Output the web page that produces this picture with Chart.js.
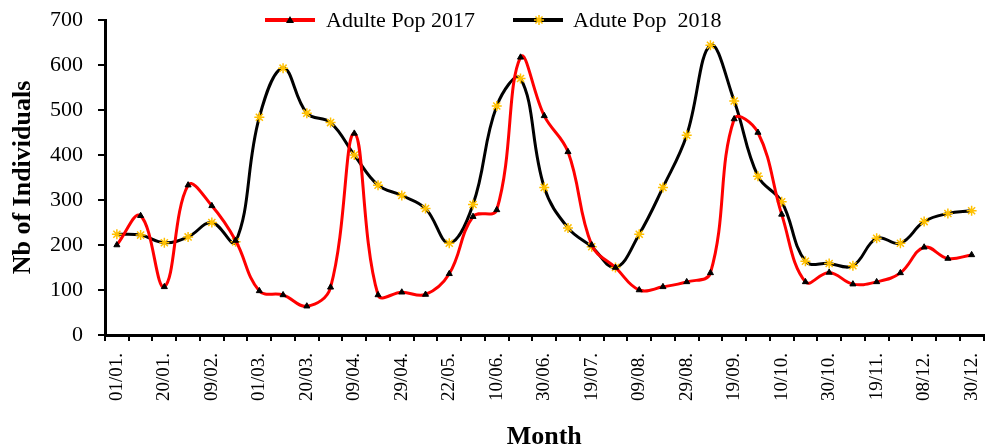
<!DOCTYPE html>
<html>
<head>
<meta charset="utf-8">
<script src="https://cdn.jsdelivr.net/npm/chart.js@4.4.1/dist/chart.umd.min.js"></script>
<style>
  html, body { margin: 0; padding: 0; background: #fff; }
  #wrap { width: 990px; height: 447px; }
</style>
</head>
<body>
<div id="wrap"><canvas id="popChart"></canvas></div>
<script>
// Tick labels shown on every second sample
const tickLabels = ['01/01.', '20/01.', '09/02.', '01/03.', '20/03.', '09/04.', '29/04.',
    '22/05.', '10/06.', '30/06.', '19/07.', '09/08.', '29/08.', '19/09.', '10/10.',
    '30/10.', '19/11.', '08/12.', '30/12.'];

const pop2017 = [200, 265, 107, 333, 287, 210, 98, 89, 64, 106, 448, 89, 95, 90, 136,
    263, 278, 617, 487, 407, 200, 150, 100, 107, 118, 138, 480, 450, 268, 118, 139,
    113, 118, 138, 195, 170, 178];

const pop2018 = [224, 222, 205, 218, 250, 207, 484, 593, 493, 472, 400, 333, 310, 281,
    204, 290, 509, 570, 328, 238, 196, 150, 224, 328, 444, 644, 520, 353, 296, 164,
    159, 154, 215, 204, 252, 270, 276];

const yTicks = [0, 100, 200, 300, 400, 500, 600, 700];

// one category per sample, label on even ones only
const categories = pop2017.map((v, i) => (i % 2 === 0 ? tickLabels[i / 2] : ''));

const serif = "'Liberation Serif', 'Times New Roman', serif";

// Legend drawn at the top, over the plot, Excel style (line with marker in the middle)
const topLegend = {
    id: 'topLegend',
    afterDraw(chart) {
        const ctx = chart.ctx;
        const y = 20;
        ctx.save();
        ctx.font = '22px ' + serif;
        ctx.textBaseline = 'middle';

        // 2017
        ctx.strokeStyle = '#ff0000';
        ctx.lineWidth = 4;
        ctx.beginPath(); ctx.moveTo(265, y); ctx.lineTo(315, y); ctx.stroke();
        ctx.fillStyle = '#000';
        ctx.beginPath();
        ctx.moveTo(290, y - 4); ctx.lineTo(294, y + 3); ctx.lineTo(286, y + 3);
        ctx.closePath(); ctx.fill();
        ctx.fillText('Adulte Pop 2017', 326, y + 1);

        // 2018
        ctx.strokeStyle = '#000';
        ctx.beginPath(); ctx.moveTo(513, y); ctx.lineTo(563, y); ctx.stroke();
        ctx.strokeStyle = '#ffc000';
        ctx.lineWidth = 1.5;
        ctx.beginPath();
        for (let a = 0; a < 4; a++) {
            const ang = a * Math.PI / 4;
            ctx.moveTo(539 - 5 * Math.cos(ang), y - 5 * Math.sin(ang));
            ctx.lineTo(539 + 5 * Math.cos(ang), y + 5 * Math.sin(ang));
        }
        ctx.stroke();
        ctx.fillText('Adute Pop  2018', 573, y + 1);
        ctx.restore();
    }
};

new Chart(document.getElementById('popChart'), {
    type: 'line',
    data: {
        labels: categories,
        datasets: [{
            label: 'Adulte Pop 2017',
            data: pop2017,
            borderColor: '#ff0000',
            borderWidth: 3,
            tension: 0.4,
            pointStyle: 'triangle',
            pointRadius: 3.5,
            pointBackgroundColor: '#000',
            pointBorderColor: '#000',
            pointBorderWidth: 1
        }, {
            label: 'Adute Pop  2018',
            data: pop2018,
            borderColor: '#000',
            borderWidth: 3,
            tension: 0.4,
            pointStyle: 'star',
            pointRadius: 5,
            pointBorderColor: '#ffc000',
            pointBackgroundColor: '#ffc000',
            pointBorderWidth: 1.5
        }]
    },
    options: {
        responsive: true,
        maintainAspectRatio: false,
        animation: false,
        // the plot runs to the right edge of the picture in the original
        layout: { padding: { left: 0, right: -8, top: 20, bottom: 0 } },
        plugins: {
            legend: { display: false },
            tooltip: { enabled: false }
        },
        scales: {
            x: {
                offset: true,
                grid: {
                    offset: true,
                    drawOnChartArea: false,
                    drawTicks: true,
                    tickLength: 6,
                    color: '#000',
                    lineWidth: 2
                },
                border: { display: true, color: '#000', width: 3 },
                ticks: {
                    autoSkip: false,
                    minRotation: 90,
                    maxRotation: 90,
                    color: '#000',
                    padding: 12,
                    font: { family: serif, size: 19 }
                },
                title: {
                    display: true,
                    text: 'Month',
                    color: '#000',
                    padding: { top: 2, bottom: -6 },
                    font: { family: serif, size: 26, weight: 'bold' }
                },
                afterFit(scale) {
                    scale.height = 112;
                    scale.paddingLeft = 0;
                    scale.paddingRight = 0;
                }
            },
            y: {
                min: 0,
                max: 700,
                afterBuildTicks(scale) { scale.ticks = yTicks.map(v => ({ value: v })); },
                grid: {
                    drawOnChartArea: false,
                    drawTicks: true,
                    tickLength: 7,
                    color: '#000',
                    lineWidth: 2
                },
                border: { display: true, color: '#000', width: 3 },
                ticks: {
                    color: '#000',
                    padding: 15,
                    font: { family: serif, size: 22 }
                },
                title: {
                    display: true,
                    text: 'Nb of Individuals',
                    color: '#000',
                    padding: { top: 8, bottom: 4 },
                    font: { family: serif, size: 26, weight: 'bold' }
                },
                afterFit(scale) {
                    scale.width = 105;
                    scale.paddingTop = 0;
                    scale.paddingBottom = 0;
                }
            }
        }
    },
    plugins: [topLegend]
});
</script>
</body>
</html>
